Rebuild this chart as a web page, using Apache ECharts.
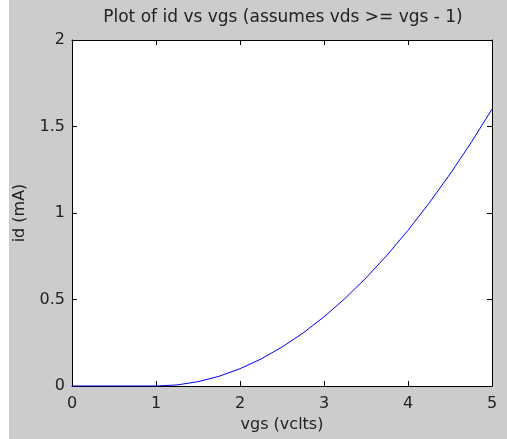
<!DOCTYPE html>
<html><head><meta charset="utf-8">
<script src="https://cdn.jsdelivr.net/npm/echarts@6/dist/echarts.min.js"></script>
<style>html,body{margin:0;padding:0;background:#fff;}#c{width:507px;height:439px;}</style>
</head><body><div id="c"></div>
<script>
const titleText = 'Plot of id vs vgs (assumes vds >= vgs - 1)';
const xName = 'vgs (vclts)';
const yName = 'id (mA)';
const vgs = [0, 0.5, 1, 1.25, 1.5, 1.75, 2, 2.25, 2.5, 2.75, 3, 3.25, 3.5, 3.75, 4, 4.25, 4.5, 4.75, 5];
const id  = [0, 0, 0, 0.006, 0.025, 0.056, 0.1, 0.156, 0.225, 0.306, 0.4, 0.506, 0.625, 0.756, 0.9, 1.056, 1.225, 1.406, 1.6];
const xTicks = [0, 1, 2, 3, 4, 5];
const yTicks = [0, 0.5, 1, 1.5, 2];

const font = 'DejaVu Sans';
const txt = '#222';
const chart = echarts.init(document.getElementById('c'), null, {renderer: 'canvas'});
const tickStyle = {show: true, inside: true, length: 5, lineStyle: {color: '#000', width: 1}};
const lineStyle = {show: true, onZero: false, lineStyle: {color: '#000', width: 1}};
const lbl = {color: txt, fontFamily: font, fontSize: 16};
chart.setOption({
  backgroundColor: '#cccccc',
  animation: false,
  title: {text: titleText, left: 278, top: 4, textAlign: 'center',
    textStyle: {color: txt, fontFamily: font, fontSize: 17, fontWeight: 'normal'}},
  graphic: [{type: 'rect', shape: {x: 0, y: 0, width: 9, height: 439}, style: {fill: '#fff'}, z: 100}],
  grid: {left: 72, right: 15, top: 40, bottom: 53, show: true, backgroundColor: '#fff', borderWidth: 0},
  xAxis: [
    {type: 'value', min: xTicks[0], max: xTicks[xTicks.length-1], interval: 1,
     name: xName, nameLocation: 'middle', nameGap: 31, nameTextStyle: lbl,
     axisLine: lineStyle, axisTick: tickStyle, splitLine: {show: false},
     axisLabel: Object.assign({margin: 10}, lbl)},
    {type: 'value', position: 'top', min: xTicks[0], max: xTicks[xTicks.length-1], interval: 1,
     axisLine: lineStyle, axisTick: tickStyle, splitLine: {show: false}, axisLabel: {show: false}}
  ],
  yAxis: [
    {type: 'value', min: yTicks[0], max: yTicks[yTicks.length-1], interval: 0.5,
     name: yName, nameLocation: 'middle', nameGap: 44, nameTextStyle: lbl,
     axisLine: lineStyle, axisTick: tickStyle, splitLine: {show: false},
     axisLabel: Object.assign({margin: 7}, lbl)},
    {type: 'value', position: 'right', min: yTicks[0], max: yTicks[yTicks.length-1], interval: 0.5,
     axisLine: lineStyle, axisTick: tickStyle, splitLine: {show: false}, axisLabel: {show: false}}
  ],
  series: [{type: 'line', data: vgs.map((v, i) => [v, id[i]]), showSymbol: false,
    lineStyle: {color: '#0000ff', width: 1}, itemStyle: {color: '#0000ff'}, z: 5}]
});
</script></body></html>
